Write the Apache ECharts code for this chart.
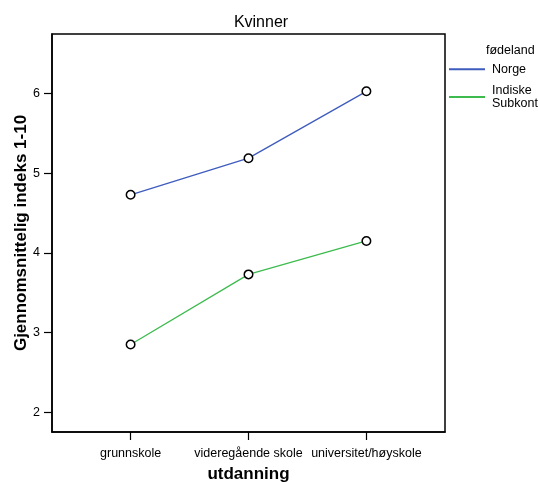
<!DOCTYPE html>
<html><head><meta charset="utf-8">
<script src="https://cdn.jsdelivr.net/npm/echarts@6/dist/echarts.min.js"></script>
<style>html,body{margin:0;padding:0;background:#fff;}#c{width:538px;height:482px;}</style>
</head><body><div id="c"></div>
<script>
const categories = ['grunnskole', 'videregående skole', 'universitet/høyskole'];
const seriesNames = ['Norge', 'Indiske Subkont'];
const norge = [4.73, 5.19, 6.03];
const indiske = [2.85, 3.73, 4.15];
const yTicks = [2, 3, 4, 5, 6];
const colors = ['#3e5cbd', '#3dbb4e'];

const font = 'Liberation Sans, Arial, sans-serif';
function pts(vals){ return vals.map((v,i)=>[i, v]); }
function mkSeries(name, vals, color){
  return {
    name: name, type: 'line', data: pts(vals),
    symbol: 'circle', symbolSize: 8.5,
    itemStyle: {color: '#fff', borderColor: '#000', borderWidth: 1.5},
    lineStyle: {color: color, width: 1.3},
    emphasis: {disabled: true}, z: 3
  };
}
const chart = echarts.init(document.getElementById('c'), null, {renderer: 'canvas'});
chart.setOption({
  animation: false,
  backgroundColor: '#fff',
  title: [
    {text: 'Kvinner', left: 261, top: 15, textAlign: 'center', padding: 0,
     textStyle: {fontFamily: font, fontSize: 16, fontWeight: 'normal', color: '#000'}},
    {text: 'fødeland', left: 486, top: 44, padding: 0,
     textStyle: {fontFamily: font, fontSize: 12.5, fontWeight: 'normal', color: '#000'}}
  ],
  legend: {
    orient: 'vertical', left: 449, top: 62.5, padding: 0,
    itemWidth: 36, itemHeight: 2, itemGap: 7.5,
    icon: 'rect',
    data: seriesNames.map((n,i)=>({name: n, icon: 'rect', itemStyle: {color: colors[i], borderWidth: 0}})),
    formatter: n => n.replace(' ', '\n'),
    textStyle: {fontFamily: font, fontSize: 12.5, color: '#000', lineHeight: 13.5, padding: [0, 0, 0, 2]},
    selectedMode: false
  },
  grid: {left: 52, right: 93, top: 34, bottom: 50, outerBoundsMode: 'none', containLabel: false,
    show: true, borderColor: '#000', borderWidth: 1.5, backgroundColor: 'transparent'},
  xAxis: {
    type: 'value', min: -2/3, max: 8/3, interval: 1,
    name: 'utdanning', nameLocation: 'middle', nameGap: 34, nameMoveOverlap: false,
    nameTextStyle: {fontFamily: font, fontSize: 17, fontWeight: 'bold', color: '#000'},
    axisLine: {show: true, onZero: false, lineStyle: {color: '#000', width: 1.5}},
    axisTick: {show: true, length: 8, lineStyle: {color: '#000', width: 1.2},
      customValues: categories.map((c,i)=>i)},
    axisLabel: {fontFamily: font, fontSize: 12.5, color: '#000', margin: 15,
      customValues: categories.map((c,i)=>i),
      formatter: v => categories[Math.round(v)] || ''},
    splitLine: {show: false}
  },
  yAxis: {
    type: 'value', min: 1.75, max: 6.75,
    name: 'Gjennomsnittelig indeks 1-10', nameLocation: 'middle', nameGap: 22, nameMoveOverlap: false,
    nameTextStyle: {fontFamily: font, fontSize: 17, fontWeight: 'bold', color: '#000'},
    axisLine: {show: true, onZero: false, lineStyle: {color: '#000', width: 1.5}},
    axisTick: {show: true, length: 8, lineStyle: {color: '#000', width: 1.2}, customValues: yTicks},
    axisLabel: {fontFamily: font, fontSize: 12.5, color: '#000', margin: 12, customValues: yTicks},
    splitLine: {show: false}
  },
  series: [mkSeries(seriesNames[0], norge, colors[0]), mkSeries(seriesNames[1], indiske, colors[1])]
});
</script></body></html>
